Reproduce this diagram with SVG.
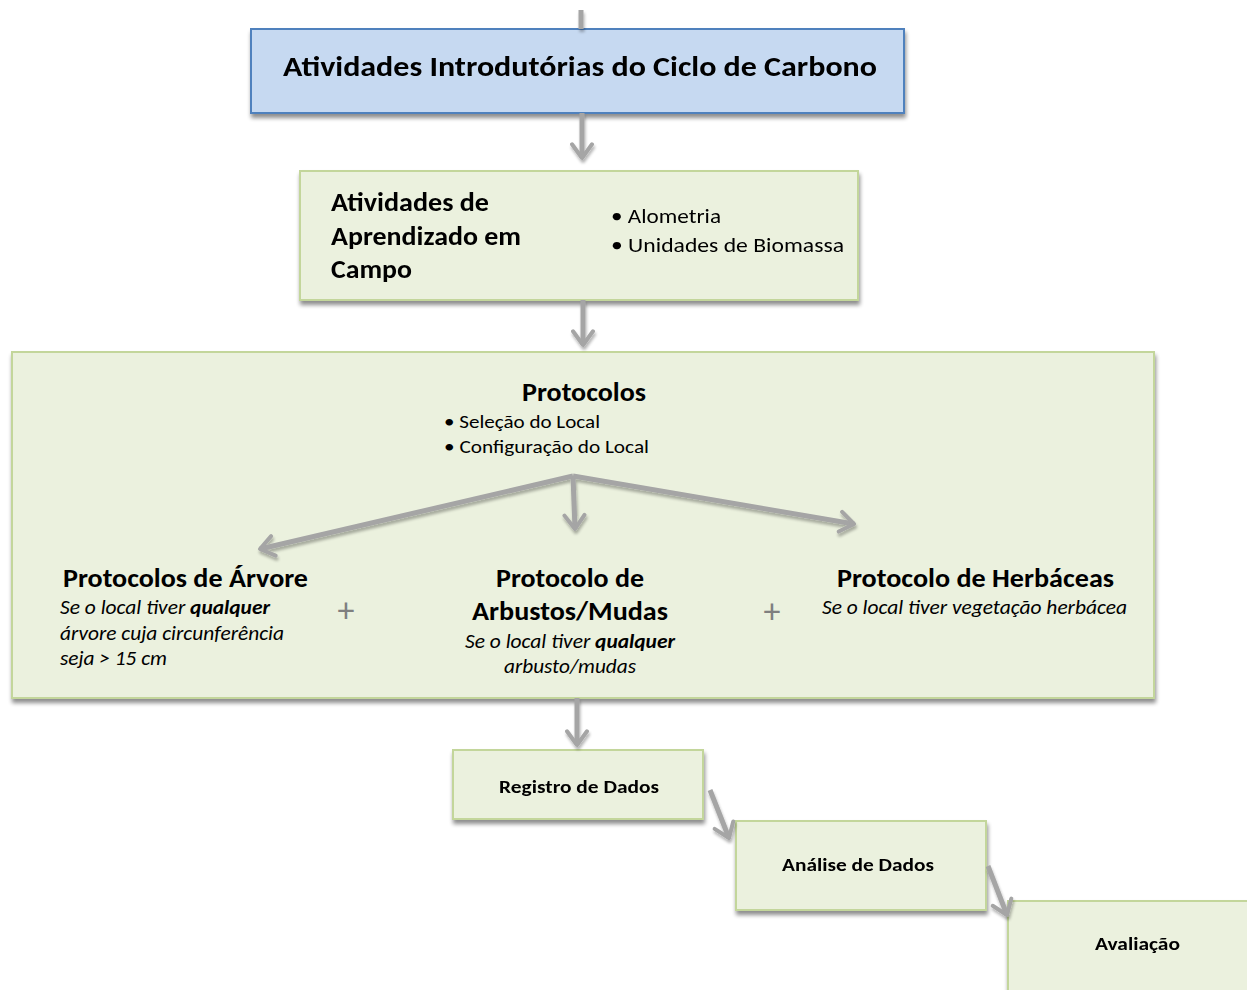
<svg xmlns="http://www.w3.org/2000/svg" width="1247" height="990" viewBox="0 0 1247 990">
<defs>
<filter id="sh" x="-5%" y="-10%" width="115%" height="130%">
<feGaussianBlur in="SourceAlpha" stdDeviation="2"/>
<feOffset dx="1" dy="4"/>
<feComponentTransfer><feFuncA type="linear" slope="0.45"/></feComponentTransfer>
<feMerge><feMergeNode/><feMergeNode in="SourceGraphic"/></feMerge>
</filter>
<filter id="ash" x="-50%" y="-50%" width="200%" height="200%">
<feGaussianBlur in="SourceAlpha" stdDeviation="1.5"/>
<feOffset dx="1" dy="3"/>
<feComponentTransfer><feFuncA type="linear" slope="0.3"/></feComponentTransfer>
<feMerge><feMergeNode/><feMergeNode in="SourceGraphic"/></feMerge>
</filter>
<marker id="ah" viewBox="0 0 10 10" refX="7" refY="5" markerWidth="5" markerHeight="5" orient="auto" markerUnits="strokeWidth">
<polyline points="1.5,1 7,5 1.5,9" fill="none" stroke="#a5a5a5" stroke-width="1.6" stroke-linecap="round" stroke-linejoin="round"/>
</marker>
</defs>
<style>
text{font-family:Carlito,Calibri,Lato,"Liberation Sans",sans-serif;fill:#000}
.green{fill:#ebf1de;stroke:#c3d69b;stroke-width:2}
.blue{fill:#c6d9f1;stroke:#4f81bd;stroke-width:2}
.b{font-weight:bold}
.i{font-style:italic}
.h{font-size:26px;font-weight:bold}
.s{font-size:19.5px;font-style:italic}
.conn{stroke:#a5a5a5;stroke-width:5;fill:none;marker-end:url(#ah)}
.plus{fill:#7f7f7f;font-size:34px}
.small{font-size:18.5px;font-weight:bold}
</style>
<rect width="1247" height="990" fill="#fff"/>
<g id="n1" filter="url(#sh)">
<rect class="blue" x="251" y="29" width="653" height="84"/>
<text class="b" x="580" y="76" font-size="29" text-anchor="middle" textLength="594" lengthAdjust="spacingAndGlyphs">Atividades Introdutórias do Ciclo de Carbono</text>
</g>
<g id="n2" filter="url(#sh)">
<rect class="green" x="300" y="171" width="558" height="129"/>
<text class="h" x="331" y="211" textLength="158" lengthAdjust="spacingAndGlyphs">Atividades de</text>
<text class="h" x="331" y="245" textLength="190" lengthAdjust="spacingAndGlyphs">Aprendizado em</text>
<text class="h" x="331" y="278" textLength="81" lengthAdjust="spacingAndGlyphs">Campo</text>
<text font-size="21" x="611" y="223" textLength="110" lengthAdjust="spacingAndGlyphs">• Alometria</text>
<text font-size="21" x="611" y="252" textLength="233" lengthAdjust="spacingAndGlyphs">• Unidades de Biomassa</text>
</g>
<g id="n3" filter="url(#sh)">
<rect class="green" x="12" y="352" width="1142" height="346"/>
</g>
<g id="n3text">
<text class="h" x="522" y="401" textLength="124" lengthAdjust="spacingAndGlyphs">Protocolos</text>
<text font-size="19" x="444" y="428" textLength="156" lengthAdjust="spacingAndGlyphs">• Seleção do Local</text>
<text font-size="19" x="444" y="453" textLength="205" lengthAdjust="spacingAndGlyphs">• Configuração do Local</text>
</g>
<g id="n4">
<text class="h" x="63" y="587" textLength="245" lengthAdjust="spacingAndGlyphs">Protocolos de Árvore</text>
<text class="s" x="60" y="614" textLength="210" lengthAdjust="spacingAndGlyphs">Se o local tiver <tspan class="b">qualquer</tspan></text>
<text class="s" x="60" y="640" textLength="224" lengthAdjust="spacingAndGlyphs">árvore cuja circunferência</text>
<text class="s" x="60" y="665" textLength="107" lengthAdjust="spacingAndGlyphs">seja &gt; 15 cm</text>
</g>
<g id="n5">
<text class="h" x="496" y="587" textLength="148" lengthAdjust="spacingAndGlyphs">Protocolo de</text>
<text class="h" x="472" y="620" textLength="196" lengthAdjust="spacingAndGlyphs">Arbustos/Mudas</text>
<text class="s" x="465" y="648" textLength="210" lengthAdjust="spacingAndGlyphs">Se o local tiver <tspan class="b">qualquer</tspan></text>
<text class="s" x="504" y="673" textLength="132" lengthAdjust="spacingAndGlyphs">arbusto/mudas</text>
</g>
<g id="n6">
<text class="h" x="837" y="587" textLength="277" lengthAdjust="spacingAndGlyphs">Protocolo de Herbáceas</text>
<text class="s" x="822" y="614" textLength="305" lengthAdjust="spacingAndGlyphs">Se o local tiver vegetação herbácea</text>
</g>
<g id="plus">
<text class="plus" x="346" y="622" text-anchor="middle">+</text>
<text class="plus" x="772" y="623" text-anchor="middle">+</text>
</g>
<g id="n7" filter="url(#sh)">
<rect class="green" x="453" y="750" width="250" height="69"/>
<text class="small" x="499" y="793" textLength="160" lengthAdjust="spacingAndGlyphs">Registro de Dados</text>
</g>
<g id="n8" filter="url(#sh)">
<rect class="green" x="736" y="821" width="250" height="89"/>
<text class="small" x="782" y="871" textLength="152" lengthAdjust="spacingAndGlyphs">Análise de Dados</text>
</g>
<g id="n9" filter="url(#sh)">
<rect class="green" x="1008" y="901" width="245" height="95"/>
<text class="small" x="1095" y="950" textLength="85" lengthAdjust="spacingAndGlyphs">Avaliação</text>
</g>
<g id="connectors" filter="url(#ash)">
<line x1="581" y1="10" x2="581" y2="29" stroke="#a5a5a5" stroke-width="5"/>
<line class="conn" x1="582" y1="113" x2="582" y2="158"/>
<line class="conn" x1="583" y1="300" x2="583" y2="345"/>
<line class="conn" x1="573" y1="476" x2="575" y2="529"/>
<line class="conn" x1="573" y1="476" x2="260" y2="549"/>
<line class="conn" x1="573" y1="476" x2="854" y2="524"/>
<line class="conn" x1="577" y1="698" x2="577" y2="745"/>
<line class="conn" x1="710" y1="790" x2="729" y2="838"/>
<line class="conn" x1="988" y1="866" x2="1007" y2="915"/>
</g>
</svg>
